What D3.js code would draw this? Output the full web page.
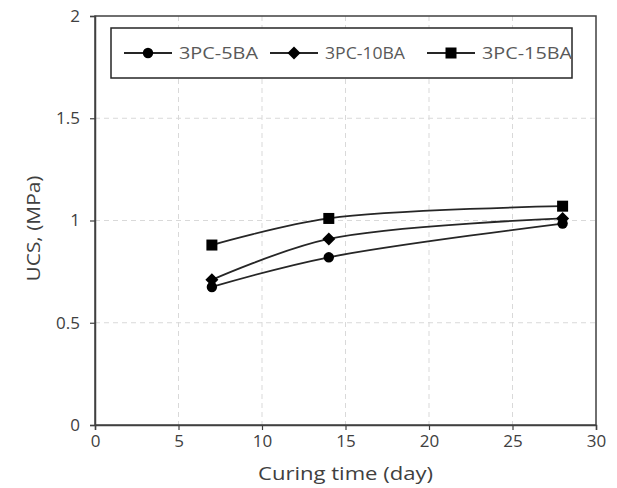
<!DOCTYPE html>
<html><head><meta charset="utf-8">
<script src="https://cdn.jsdelivr.net/npm/d3@7"></script>
<style>body{margin:0;background:#fff}text{font-family:"Open Sans","Liberation Sans",sans-serif}</style>
</head><body><svg id="c" width="617" height="488"></svg>
<script>
const days = [7, 14, 28];
const seriesNames = ["3PC-5BA", "3PC-10BA", "3PC-15BA"];
const ucs5BA = [0.675, 0.82, 0.985];
const ucs10BA = [0.71, 0.91, 1.01];
const ucs15BA = [0.88, 1.01, 1.07];
const markers = ["circle", "diamond", "square"];
const xTicks = [0, 5, 10, 15, 20, 25, 30];
const yTicks = [0, 0.5, 1, 1.5, 2];

const series = [ucs5BA, ucs10BA, ucs15BA].map((v, i) => ({name: seriesNames[i], marker: markers[i], values: v.map((y, j) => ({x: days[j], y}))}));

const svg = d3.select("#c");
const L = 95, R = 596, T = 16, B = 425;
const x = d3.scaleLinear().domain([0, 30]).range([L, R]);
const y = d3.scaleLinear().domain([0, 2]).range([B, T]);

// grid
svg.append("g").selectAll("line").data(xTicks.slice(1, -1)).join("line")
  .attr("x1", d => x(d)).attr("x2", d => x(d)).attr("y1", T).attr("y2", B)
  .attr("stroke", "#d9d9d9").attr("stroke-dasharray", "5,4");
svg.append("g").selectAll("line").data(yTicks.slice(1, -1)).join("line")
  .attr("y1", d => y(d)).attr("y2", d => y(d)).attr("x1", L).attr("x2", R)
  .attr("stroke", "#d9d9d9").attr("stroke-dasharray", "5,4");

// frame
svg.append("rect").attr("x", L).attr("y", T).attr("width", R - L).attr("height", B - T)
  .attr("fill", "none").attr("stroke", "#404040").attr("stroke-width", 1.5);

// axes
const xAxis = svg.append("g").attr("transform", `translate(0,${B})`)
  .call(d3.axisBottom(x).tickValues(xTicks).tickSize(5).tickPadding(5).tickFormat(d3.format("d")));
const yAxis = svg.append("g").attr("transform", `translate(${L},0)`)
  .call(d3.axisLeft(y).tickValues(yTicks).tickSize(5).tickPadding(10).tickFormat(d => d));
[xAxis, yAxis].forEach(g => {
  g.select(".domain").attr("stroke", "#404040").attr("stroke-width", 1.5);
  g.selectAll(".tick line").attr("stroke", "#404040").attr("stroke-width", 1.2);
  g.selectAll("text").attr("fill", "#404040").style("font-size", "17px");
});

// axis titles
svg.append("text").attr("x", (L + R) / 2).attr("y", 480).attr("text-anchor", "middle")
  .attr("fill", "#404040").style("font-size", "19px").attr("textLength", 175).attr("lengthAdjust", "spacingAndGlyphs").text("Curing time (day)");
svg.append("text").attr("transform", `translate(40,${(T + B) / 2 + 8}) rotate(-90)`).attr("text-anchor", "middle")
  .attr("fill", "#404040").style("font-size", "19px").attr("textLength", 106).attr("lengthAdjust", "spacingAndGlyphs").text("UCS, (MPa)");

function drawMarker(g, type, cx, cy) {
  if (type === "circle") g.append("circle").attr("cx", cx).attr("cy", cy).attr("r", 5.2).attr("fill", "#000");
  else if (type === "diamond") g.append("path").attr("d", `M${cx},${cy - 6.5}L${cx + 6.5},${cy}L${cx},${cy + 6.5}L${cx - 6.5},${cy}Z`).attr("fill", "#000");
  else g.append("rect").attr("x", cx - 5.5).attr("y", cy - 5.5).attr("width", 11).attr("height", 11).attr("fill", "#000");
}

const line = d3.line().x(d => x(d.x)).y(d => y(d.y)).curve(d3.curveCatmullRom.alpha(0.5));
const pg = svg.append("g");
series.forEach(s => {
  pg.append("path").attr("d", line(s.values)).attr("fill", "none").attr("stroke", "#262626").attr("stroke-width", 1.8);
});
series.forEach(s => s.values.forEach(v => drawMarker(pg, s.marker, x(v.x), y(v.y))));

// legend
const lg = svg.append("g");
lg.append("rect").attr("x", 111).attr("y", 28).attr("width", 461).attr("height", 50)
  .attr("fill", "#fff").attr("stroke", "#262626").attr("stroke-width", 1.5);
const legendX = [124, 270, 427];
const legendW = [79, 80, 90];
series.forEach((s, i) => {
  const lx = legendX[i], ly = 53;
  lg.append("line").attr("x1", lx).attr("x2", lx + 48).attr("y1", ly).attr("y2", ly).attr("stroke", "#262626").attr("stroke-width", 1.8);
  drawMarker(lg, s.marker, lx + 24, ly);
  lg.append("text").attr("x", lx + 55).attr("y", ly + 6).attr("fill", "#595959").style("font-size", "16px")
    .attr("textLength", legendW[i]).attr("lengthAdjust", "spacingAndGlyphs").text(s.name);
});
</script></body></html>
